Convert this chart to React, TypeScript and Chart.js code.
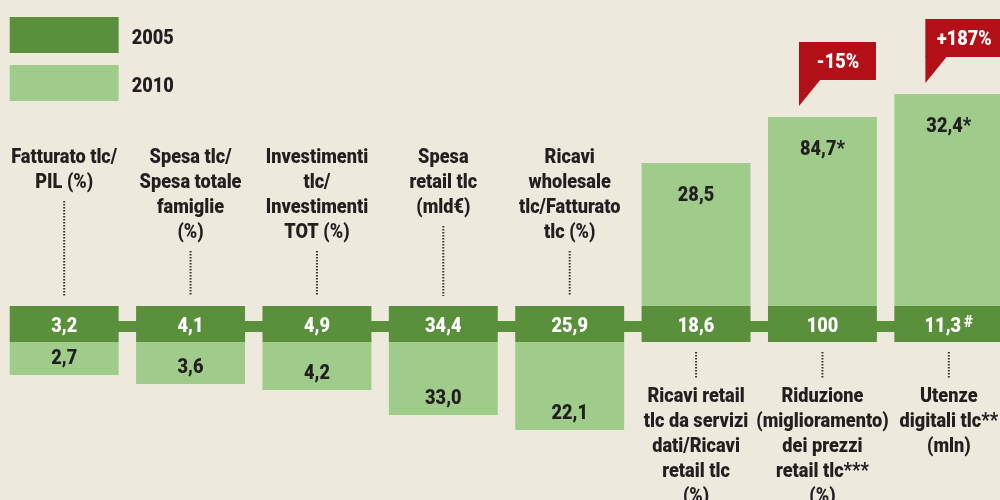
import React, { useEffect, useRef } from "react";
import { Chart, registerables } from "chart.js";

Chart.register(...registerables);

// ---------- data ----------
const categories: string[][] = [
  ["Fatturato tlc/", "PIL (%)"],
  ["Spesa tlc/", "Spesa totale", "famiglie", "(%)"],
  ["Investimenti", "tlc/", "Investimenti", "TOT (%)"],
  ["Spesa", "retail tlc", "(mld€)"],
  ["Ricavi", "wholesale", "tlc/Fatturato", "tlc (%)"],
  ["Ricavi retail", "tlc da servizi", "dati/Ricavi", "retail tlc", "(%)"],
  ["Riduzione", "(miglioramento)", "dei prezzi", "retail tlc***", "(%)"],
  ["Utenze", "digitali tlc**", "(mln)"],
];
const labelAbove = [true, true, true, true, true, false, false, false];
const seriesNames = ["2005", "2010"];
const values2005 = ["3,2", "4,1", "4,9", "34,4", "25,9", "18,6", "100", "11,3"];
const notes2005 = ["", "", "", "", "", "", "", "#"];
const values2010 = ["2,7", "3,6", "4,2", "33,0", "22,1", "28,5", "84,7*", "32,4*"];
// visual length of the 2010 blocks (infographic units, not proportional to values)
const barLength2010 = [33, 42, 48, 73, 88, 143, 189, 212];
const changes = ["", "", "", "", "", "", "-15%", "+187%"];

// ---------- style ----------
const FONT = "Roboto, 'Liberation Sans', sans-serif";
const WEIGHT = "900";
const CALIBRATION = { text: "Fatturato tlc/", size: 20, width: 106 };
let squeeze = 0;
const COLORS = {
  bg: "#edeadd",
  dark: "#5a8f3b",
  light: "#a0cc8b",
  red: "#b20f17",
  text: "#231f20",
  white: "#ffffff",
};
const BAND = 36; // height of the 2005 band in infographic units
const CONNECTOR_LEVEL = 15.5;

function getSqueeze(ctx: CanvasRenderingContext2D) {
  if (!squeeze) {
    ctx.save();
    ctx.font = `${WEIGHT} ${CALIBRATION.size}px ${FONT}`;
    const w = ctx.measureText(CALIBRATION.text).width;
    ctx.restore();
    squeeze = Math.min(1, CALIBRATION.width / w);
  }
  return squeeze;
}

function textWidth(ctx: CanvasRenderingContext2D, t: string, size: number) {
  ctx.font = `${WEIGHT} ${size}px ${FONT}`;
  return ctx.measureText(t).width * getSqueeze(ctx);
}

function drawText(
  ctx: CanvasRenderingContext2D,
  t: string,
  x: number,
  y: number,
  size: number,
  color: string,
  align: CanvasTextAlign = "center"
) {
  const s = getSqueeze(ctx);
  ctx.save();
  ctx.font = `${WEIGHT} ${size}px ${FONT}`;
  ctx.fillStyle = color;
  ctx.textAlign = align;
  ctx.textBaseline = "alphabetic";
  ctx.translate(x, y);
  ctx.scale(s, 1);
  ctx.fillText(t, 0, 0);
  ctx.restore();
}

const infographicPlugin = {
  id: "infographic",
  afterDatasetsDraw(chart: any) {
    const ctx: CanvasRenderingContext2D = chart.ctx;
    const y = chart.scales.y;
    const bandMeta = chart.getDatasetMeta(1);
    const bandTop = y.getPixelForValue(BAND);
    const bandBot = y.getPixelForValue(0);
    const bandMid = (bandTop + bandBot) / 2;
    ctx.save();

    categories.forEach((lines, i) => {
      const bar = bandMeta.data[i];
      const cx = bar.x;
      const half = bar.width / 2;

      // 2005 value in band
      const t = values2005[i];
      const note = notes2005[i];
      if (note) {
        const w = textWidth(ctx, t, 20) + 3;
        const nw = textWidth(ctx, note, 17);
        const start = cx - (w + nw) / 2;
        drawText(ctx, t, start, bandMid + 8, 20, COLORS.white, "left");
        drawText(ctx, note, start + w, bandMid + 3, 17, COLORS.white, "left");
      } else {
        drawText(ctx, t, cx, bandMid + 8, 20, COLORS.white);
      }

      // 2010 value
      const above = labelAbove[i];
      if (above) {
        const bottom = y.getPixelForValue(-barLength2010[i]);
        drawText(ctx, values2010[i], cx, bottom - 11, 20, COLORS.text);
      } else {
        const top = y.getPixelForValue(BAND + barLength2010[i]);
        drawText(ctx, values2010[i], cx, top + 38, 20, COLORS.text);
      }

      // category labels with dotted leader
      ctx.strokeStyle = "#3a3536";
      ctx.lineWidth = 2;
      ctx.setLineDash([1.5, 1.5]);
      if (above) {
        const first = 163;
        lines.forEach((ln, k) => drawText(ctx, ln, cx, first + k * 25, 20, COLORS.text));
        const last = first + (lines.length - 1) * 25;
        ctx.beginPath();
        ctx.moveTo(cx, last + 13);
        ctx.lineTo(cx, bandTop - 10);
        ctx.stroke();
      } else {
        const first = bandBot + 60;
        lines.forEach((ln, k) => drawText(ctx, ln, cx, first + k * 25, 20, COLORS.text));
        ctx.beginPath();
        ctx.moveTo(cx, bandBot + 10);
        ctx.lineTo(cx, first - 24);
        ctx.stroke();
      }
      ctx.setLineDash([]);

      // change callouts
      if (changes[i]) {
        const top = y.getPixelForValue(BAND + barLength2010[i]);
        const left = cx - half + 31;
        const boxBottom = top - 37;
        const boxTop = boxBottom - 38;
        ctx.fillStyle = COLORS.red;
        ctx.fillRect(left, boxTop, 77, 38);
        ctx.beginPath();
        ctx.moveTo(left, boxBottom - 1);
        ctx.lineTo(left, top - 11);
        ctx.lineTo(left + 22, boxBottom - 1);
        ctx.closePath();
        ctx.fill();
        drawText(ctx, changes[i], left + 39, boxBottom - 12, 20, COLORS.white);
      }
    });

    // legend
    const b0 = bandMeta.data[0];
    const lx = b0.x - b0.width / 2;
    [COLORS.dark, COLORS.light].forEach((c, k) => {
      const ty = 17 + k * 48;
      ctx.fillStyle = c;
      ctx.fillRect(lx, ty, b0.width, 36);
      drawText(ctx, seriesNames[k], lx + b0.width + 13, ty + 27, 20, COLORS.text, "left");
    });
    ctx.restore();
  },
};

export default function App() {
  const ref = useRef<HTMLCanvasElement | null>(null);
  useEffect(() => {
    if (!ref.current) return;
    const chart = new Chart(ref.current, {
      type: "bar",
      data: {
        labels: categories,
        datasets: [
          {
            type: "line",
            label: "connector",
            data: categories.map(() => CONNECTOR_LEVEL),
            borderColor: COLORS.dark,
            borderWidth: 11,
            pointRadius: 0,
            order: 3,
          } as any,
          {
            label: seriesNames[0],
            data: categories.map(() => [0, BAND]),
            backgroundColor: COLORS.dark,
            borderWidth: 0,
            grouped: false,
            barPercentage: 0.862,
            categoryPercentage: 1,
            order: 1,
          },
          {
            label: seriesNames[1],
            data: categories.map((_, i) =>
              labelAbove[i] ? [0, -barLength2010[i]] : [BAND, BAND + barLength2010[i]]
            ),
            backgroundColor: COLORS.light,
            borderWidth: 0,
            grouped: false,
            barPercentage: 0.862,
            categoryPercentage: 1,
            order: 2,
          },
        ],
      },
      options: {
        responsive: false,
        animation: false,
        devicePixelRatio: 1,
        layout: { padding: { left: 1, right: 0, top: 0, bottom: 0 } },
        scales: {
          x: { display: false },
          y: { display: false, min: -158, max: 342 },
        },
        plugins: {
          legend: { display: false },
          tooltip: { enabled: false },
        },
      },
      plugins: [infographicPlugin],
    });
    return () => chart.destroy();
  }, []);

  return (
    <div
      style={{
        position: "fixed",
        left: 0,
        top: 0,
        width: 1000,
        height: 500,
        overflow: "hidden",
        background: COLORS.bg,
      }}
    >
      <canvas ref={ref} width={1012} height={500} style={{ display: "block" }} />
    </div>
  );
}
